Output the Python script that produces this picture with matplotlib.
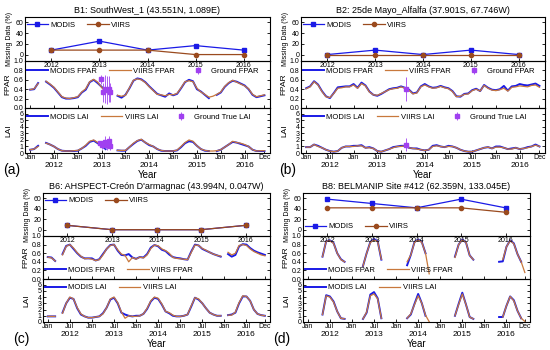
import numpy as np
import matplotlib
matplotlib.use('Agg')
import matplotlib.pyplot as plt

plt.rcParams['font.family'] = ['Liberation Sans', 'DejaVu Sans']
nan = np.nan

years = [2012, 2013, 2014, 2015, 2016]
months = np.arange(60)
month_ticks = [0, 6, 12, 18, 24, 30, 36, 42, 48, 54, 59]
month_labels = ['Jan', 'Jul'] * 5 + ['Dec']

titles = ['B1: SouthWest_1 (43.551N, 1.089E)',
          'B2: 25de Mayo_Alfalfa (37.901S, 67.746W)',
          "B6: AHSPECT-Creón D'armagnac (43.994N, 0.047W)",
          'B8: BELMANIP Site #412 (62.359N, 133.045E)']
letters = ['(a)', '(b)', '(c)', '(d)']

# missing data (%) per year
miss_modis = [[8.3, 25, 8.3, 16.7, 8.3],
              [0, 8.3, 0, 8.3, 0],
              [8.3, 0, 0, 0, 8.3],
              [58.3, 50, 41.7, 58.3, 41.7]]
miss_viirs = [[8.3, 8.3, 8.3, 0, 0],
              [0, 0, 0, 0, 0],
              [8.3, 0, 0, 0, 8.3],
              [41.7, 41.7, 41.7, 41.7, 33.3]]

# monthly FPAR / LAI, Jan 2012 .. Dec 2016
a_fpar_modis = [0.39, 0.40, 0.53, nan, 0.56, 0.50, 0.43, 0.33, 0.23, 0.20, 0.20, 0.21,
                0.23, 0.33, 0.39, 0.55, 0.60, 0.53, 0.45, 0.36, nan, nan, 0.26, 0.22,
                0.28, 0.42, 0.58, 0.63, 0.61, 0.55, 0.46, 0.38, 0.30, 0.27, 0.24, 0.31,
                0.27, 0.30, 0.42, 0.55, 0.60, 0.57, 0.40, 0.35, 0.28, 0.21, nan, 0.28,
                0.33, 0.45, 0.53, 0.58, 0.56, 0.52, 0.48, 0.40, 0.28, 0.23, 0.25, 0.27]
a_fpar_viirs = [0.39, 0.41, 0.52, nan, 0.57, 0.51, 0.44, 0.34, 0.24, 0.21, 0.20, 0.22,
                0.24, 0.34, 0.41, 0.56, 0.61, 0.55, 0.44, 0.35, nan, nan, 0.27, 0.25,
                0.27, 0.43, 0.59, 0.62, 0.60, 0.54, 0.45, 0.37, 0.29, 0.28, 0.26, 0.29,
                0.28, 0.31, 0.43, 0.56, 0.58, 0.56, 0.42, 0.34, 0.29, 0.23, 0.25, 0.29,
                0.34, 0.46, 0.54, 0.59, 0.55, 0.51, 0.47, 0.41, 0.29, 0.24, 0.26, 0.28]
a_lai_modis = [0.5, 0.6, 1.1, nan, 1.55, 1.3, 1.0, 0.6, 0.35, 0.3, 0.3, 0.3,
               0.35, 0.7, 1.1, 1.7, 1.9, 1.5, 1.1, 0.6, nan, nan, 0.4, 0.35,
               0.35, 0.9, 1.4, 1.85, 2.05, 1.6, 1.2, 1.0, 0.6, 0.35, 0.3, 0.3,
               0.3, 0.4, 0.9, 1.5, 1.8, 1.7, 1.1, 0.6, 0.35, 0.3, nan, 0.3,
               0.5, 0.9, 1.3, 1.7, 1.6, 1.4, 1.2, 1.0, 0.5, 0.3, 0.3, 0.3]
a_lai_viirs = [0.5, 0.6, 1.0, nan, 1.5, 1.3, 1.0, 0.6, 0.35, 0.3, 0.3, 0.35,
               0.4, 0.7, 1.2, 1.8, 2.0, 1.6, 1.2, 0.8, nan, nan, 0.4, 0.4,
               0.4, 0.9, 1.5, 1.9, 2.1, 1.6, 1.3, 1.0, 0.6, 0.4, 0.3, 0.3,
               0.3, 0.45, 1.0, 1.6, 2.0, 1.8, 1.1, 0.6, 0.4, 0.3, 0.3, 0.35,
               0.5, 0.9, 1.3, 1.8, 1.6, 1.5, 1.3, 1.0, 0.5, 0.3, 0.35, 0.35]

b_fpar_modis = [0.42, 0.46, 0.57, 0.50, 0.36, 0.25, 0.21, 0.32, 0.44, 0.45, 0.46, 0.46,
                0.51, 0.43, 0.54, 0.48, 0.35, 0.28, 0.26, 0.30, 0.35, 0.40, 0.42, 0.43,
                0.46, 0.43, 0.39, 0.31, 0.33, 0.46, 0.51, 0.46, 0.43, 0.44, 0.47, 0.44,
                0.42, 0.36, 0.25, 0.24, 0.30, 0.31, 0.38, 0.41, 0.36, 0.49, 0.43, 0.39,
                0.38, 0.40, 0.47, 0.37, 0.46, 0.47, 0.51, 0.49, 0.48, 0.50, 0.52, 0.47]
b_fpar_viirs = [0.41, 0.45, 0.56, 0.49, 0.35, 0.24, 0.22, 0.31, 0.42, 0.43, 0.45, 0.45,
                0.49, 0.42, 0.52, 0.47, 0.34, 0.28, 0.27, 0.31, 0.35, 0.39, 0.41, 0.42,
                0.45, 0.42, 0.38, 0.30, 0.32, 0.45, 0.49, 0.45, 0.42, 0.43, 0.46, 0.43,
                0.41, 0.35, 0.24, 0.25, 0.29, 0.30, 0.37, 0.40, 0.36, 0.48, 0.42, 0.38,
                0.37, 0.39, 0.42, 0.36, 0.44, 0.45, 0.47, 0.46, 0.45, 0.48, 0.49, 0.44]
b_lai_modis = [0.9, 0.9, 1.3, 1.1, 0.8, 0.5, 0.3, 0.2, 0.3, 0.8, 1.0, 1.0,
               1.1, 1.1, 1.2, 0.8, 0.9, 0.7, 0.3, 0.2, 0.4, 0.6, 0.9, 1.0,
               1.1, 1.1, 0.8, 0.7, 0.7, 0.5, 0.4, 0.5, 1.1, 1.2, 1.0, 0.9,
               1.1, 1.0, 0.8, 0.5, 0.3, 0.2, 0.2, 0.4, 0.6, 0.8, 0.9, 0.7,
               1.0, 1.0, 0.8, 0.6, 0.7, 0.8, 0.6, 0.7, 0.9, 1.0, 1.3, 1.0]
b_lai_viirs = [0.9, 0.9, 1.3, 1.0, 0.8, 0.5, 0.3, 0.2, 0.3, 0.8, 1.0, 1.0,
               1.0, 1.1, 1.1, 0.8, 0.8, 0.7, 0.3, 0.2, 0.4, 0.6, 0.8, 1.0,
               1.0, 1.1, 0.8, 0.7, 0.6, 0.5, 0.4, 0.5, 1.0, 1.1, 1.0, 0.9,
               1.0, 1.0, 0.8, 0.5, 0.3, 0.2, 0.2, 0.4, 0.6, 0.8, 0.9, 0.7,
               0.9, 0.9, 0.8, 0.6, 0.6, 0.8, 0.6, 0.7, 0.8, 1.0, 1.2, 1.0]

c_fpar_modis = [0.51, 0.50, 0.42, nan, 0.58, 0.77, 0.80, 0.70, 0.60, 0.52, 0.48, 0.48,
                0.48, 0.43, 0.46, 0.58, 0.70, 0.79, 0.80, 0.66, 0.56, 0.55, 0.58, 0.50,
                0.47, 0.51, 0.50, 0.58, 0.73, 0.79, 0.76, 0.68, 0.65, 0.57, 0.51, 0.49,
                0.48, 0.46, 0.45, 0.64, 0.80, 0.78, 0.70, 0.66, 0.62, 0.58, 0.55, 0.52,
                nan, 0.58, 0.52, 0.56, 0.76, 0.81, 0.80, 0.72, 0.66, 0.62, 0.59, 0.56]
c_fpar_viirs = [0.51, 0.49, 0.42, nan, 0.56, 0.76, 0.80, 0.72, 0.61, 0.53, 0.47, 0.48,
                0.46, 0.43, 0.45, 0.56, 0.70, 0.78, 0.80, 0.68, 0.58, 0.55, 0.40, 0.50,
                0.46, 0.51, 0.49, 0.56, 0.71, 0.79, 0.77, 0.70, 0.66, 0.60, 0.50, 0.48,
                0.47, 0.46, 0.45, 0.62, 0.79, 0.78, 0.71, 0.67, 0.62, 0.58, 0.55, 0.53,
                nan, 0.62, 0.56, 0.60, 0.78, 0.80, 0.78, 0.70, 0.64, 0.60, 0.56, 0.54]
c_lai_modis = [0.9, 0.9, 0.9, nan, 1.5, 3.0, 3.9, 3.7, 2.2, 1.2, 0.9, 0.7,
               0.7, 0.8, 0.9, 1.4, 2.3, 3.6, 3.9, 3.0, 1.5, 1.2, 1.0, 0.9,
               1.0, 1.0, 1.3, 2.1, 3.3, 3.9, 3.7, 2.8, 1.7, 1.4, 1.0, 0.9,
               0.9, 1.0, 1.2, 2.5, 3.9, 3.6, 3.0, 2.2, 1.5, 1.2, 1.0, 1.0,
               nan, 1.1, 1.2, 1.5, 3.0, 4.1, 4.1, 3.4, 2.0, 1.3, 1.1, 1.0]
c_lai_viirs = [0.9, 0.9, 0.9, nan, 1.4, 3.0, 4.0, 3.7, 2.3, 1.3, 0.9, 0.7,
               0.7, 0.8, 0.9, 1.3, 2.3, 3.7, 4.0, 3.1, 1.6, 0.6, 1.0, 0.9,
               0.9, 1.0, 1.3, 2.2, 3.4, 4.0, 3.8, 2.9, 1.7, 1.5, 1.1, 0.9,
               0.9, 1.0, 1.2, 2.6, 3.9, 3.7, 3.0, 2.2, 1.5, 1.2, 1.0, 1.0,
               nan, 1.1, 1.1, 1.6, 3.1, 4.2, 4.1, 3.4, 2.0, 1.3, 1.1, 1.0]

d_fpar_modis = [nan, nan, nan, nan, 0.52, 0.88, 0.90, 0.84, 0.60, 0.46, 0.40, nan,
                nan, nan, nan, 0.30, 0.60, 0.86, 0.93, 0.88, 0.45, nan, nan, nan,
                nan, nan, nan, 0.32, 0.56, 0.86, 0.92, 0.86, 0.60, nan, nan, nan,
                nan, nan, nan, nan, 0.52, 0.80, 0.92, 0.85, 0.55, 0.45, nan, nan,
                nan, nan, nan, nan, 0.40, 0.41, 0.75, 0.90, 0.83, 0.58, 0.40, nan]
d_fpar_viirs = [nan, nan, nan, nan, 0.52, 0.88, 0.89, 0.83, 0.60, 0.45, 0.40, nan,
                nan, nan, nan, 0.30, 0.60, 0.85, 0.91, 0.87, 0.46, nan, nan, nan,
                nan, nan, nan, 0.40, 0.56, 0.85, 0.91, 0.85, 0.60, 0.12, nan, nan,
                nan, nan, nan, nan, 0.50, 0.80, 0.91, 0.85, 0.55, 0.45, nan, nan,
                nan, nan, nan, nan, nan, 0.45, 0.75, 0.89, 0.82, 0.58, 0.40, 0.15]
d_lai_modis = [nan, nan, nan, nan, 1.2, 4.3, 4.1, 3.3, 1.7, 0.6, 0.5, nan,
               nan, nan, nan, 0.5, 1.5, 4.4, 4.8, 3.8, 0.6, nan, nan, nan,
               nan, nan, nan, 0.6, 1.2, 2.9, 4.5, 3.0, 1.0, nan, nan, nan,
               nan, nan, nan, nan, 1.0, 2.9, 4.7, 2.8, 0.8, 0.5, nan, nan,
               nan, nan, nan, nan, 0.8, 0.8, 2.6, 4.1, 3.5, 1.8, 0.6, nan]
d_lai_viirs = [nan, nan, nan, nan, 1.2, 4.2, 4.0, 3.2, 1.7, 0.6, 0.5, nan,
               nan, nan, nan, 0.5, 1.6, 4.2, 4.5, 3.7, 0.6, nan, nan, nan,
               nan, nan, nan, 0.6, 1.3, 2.8, 4.2, 3.0, 1.1, 0.05, nan, nan,
               nan, nan, nan, nan, 1.0, 2.8, 4.5, 2.8, 0.8, 0.5, nan, nan,
               nan, nan, nan, nan, nan, 0.8, 2.6, 4.1, 3.4, 1.8, 0.6, 0.1]

fpar_modis = [a_fpar_modis, b_fpar_modis, c_fpar_modis, d_fpar_modis]
fpar_viirs = [a_fpar_viirs, b_fpar_viirs, c_fpar_viirs, d_fpar_viirs]
lai_modis = [a_lai_modis, b_lai_modis, c_lai_modis, d_lai_modis]
lai_viirs = [a_lai_viirs, b_lai_viirs, c_lai_viirs, d_lai_viirs]

# ground measurements (month index, value, error)
gnd_fpar_t = [[17.8, 18.3, 18.8, 19.3, 19.8, 20.2], [25.2], [], []]
gnd_fpar = [[0.61, 0.33, 0.40, 0.38, 0.40, 0.33], [0.40], [], []]
gnd_fpar_err = [[0.10, 0.20, 0.30, 0.30, 0.28, 0.20], [0.25], [], []]
gnd_lai_t = [[17.6, 18.2, 18.8, 19.3, 19.8, 20.2], [25.2], [], []]
gnd_lai = [[1.5, 1.2, 1.7, 1.2, 1.8, 1.1], [1.3], [], []]
gnd_lai_err = [[0.4, 0.6, 0.9, 0.7, 0.8, 0.6], [1.0], [], []]

# panel boxes in pixels: left, right, top/bottom edges of the three stacked axes
boxes = [(25, 270, [17, 61, 108, 153]),
         (301, 545, [17, 61, 108, 153]),
         (43, 270, [193, 236, 279, 322]),
         (303, 530, [193, 236, 279, 322])]

W, H = 550, 350
fig = plt.figure(figsize=(W / 100, H / 100), dpi=100)

MOD_C = '#1a1ae6'
VII_C = '#c8783c'
VII_M = '#9a4a1e'
GND_C = '#a040f0'


def px_axes(x0, x1, y0, y1):
    ax = fig.add_axes([x0 / W, 1 - y1 / H, (x1 - x0) / W, (y1 - y0) / H])
    ax.patch.set_alpha(0)
    ax.tick_params(direction='in', length=2, width=0.6, labelsize=5, pad=1,
                   right=True, top=False)
    for s in ax.spines.values():
        s.set_linewidth(0.8)
    return ax


leg_kw = dict(fontsize=5.5, frameon=False, handlelength=2.8, columnspacing=1.6,
              borderaxespad=0.1, handletextpad=0.3, borderpad=0.1)

for i in range(4):
    x0, x1, ys = boxes[i]
    ax1 = px_axes(x0, x1, ys[0], ys[1])
    ax2 = px_axes(x0, x1, ys[1], ys[2])
    ax3 = px_axes(x0, x1, ys[2], ys[3])
    ax1.set_zorder(3)

    ax1.plot(years, miss_modis[i], '-s', color=MOD_C, lw=0.9, ms=3, label='MODIS')
    ax1.plot(years, miss_viirs[i], '-o', color=VII_M, lw=0.9, ms=3, label='VIIRS')
    ax1.set_xlim(2011.45, 2016.55)
    ax1.set_ylim(-12, 70)
    ax1.set_yticks([0, 20, 40, 60])
    ax1.set_xticks(years)
    ax1.tick_params(axis='x', pad=0.5)
    ax1.set_ylabel('Missing Data (%)', fontsize=5, labelpad=2)
    ax1.set_title(titles[i], fontsize=6.5, pad=3)
    ax1.legend(loc='center left', bbox_to_anchor=(0, 0.22 if i == 3 else 0.82),
               ncol=2, **leg_kw)

    t = months
    ax2.plot(t, fpar_modis[i], color=MOD_C, lw=1.4, label='MODIS FPAR')
    ax2.plot(t, fpar_viirs[i], color=VII_C, lw=0.9, label='VIIRS FPAR')
    ax3.plot(t, lai_modis[i], color=MOD_C, lw=1.4, label='MODIS LAI')
    ax3.plot(t, lai_viirs[i], color=VII_C, lw=0.9, label='VIIRS LAI')
    if gnd_fpar_t[i]:
        ax2.errorbar(gnd_fpar_t[i], gnd_fpar[i], yerr=gnd_fpar_err[i], fmt='s',
                     color=GND_C, ms=2.5, elinewidth=0.6, capsize=0, label='Ground FPAR')
        ax3.errorbar(gnd_lai_t[i], gnd_lai[i], yerr=gnd_lai_err[i], fmt='s',
                     color=GND_C, ms=2.5, elinewidth=0.6, capsize=0, label='Ground True LAI')

    ax2.set_ylim(0, 1.0)
    ax2.set_yticks([0, 0.2, 0.4, 0.6, 0.8, 1.0])
    ax2.set_yticklabels(['0.0', '0.2', '0.4', '0.6', '0.8', '1.0'])
    ax3.set_ylim(0, 6.9)
    ax3.set_yticks(range(7))
    ax2.set_ylabel('FPAR', fontsize=6, labelpad=2)
    ax3.set_ylabel('LAI', fontsize=6, labelpad=5)
    for ax in (ax2, ax3):
        ax.set_xlim(-1.3, 60.4)
        ax.set_xticks(month_ticks)
    ax2.set_xticklabels([])
    ax3.set_xticklabels(month_labels, fontsize=5)
    for k, y in enumerate(years):
        ax3.text(6 + 12 * k, -0.28, str(y), transform=ax3.get_xaxis_transform(),
                 ha='center', va='center', fontsize=6)
    ax3.set_xlabel('Year', fontsize=7, labelpad=6)

    ncol = 3 if gnd_fpar_t[i] else 2
    ax2.legend(loc='center left', bbox_to_anchor=(0, 0.2 if i >= 2 else 0.78),
               ncol=ncol, **leg_kw)
    ax3.legend(loc='center left', bbox_to_anchor=(0, 0.8), ncol=ncol, **leg_kw)

    fig.text((x0 - 22 if i in (0, 1) else x0 - 30) / W, 1 - (ys[3] + 17) / H,
             letters[i], fontsize=10, ha='left', va='center')

fig.savefig('out.png', dpi=100)
